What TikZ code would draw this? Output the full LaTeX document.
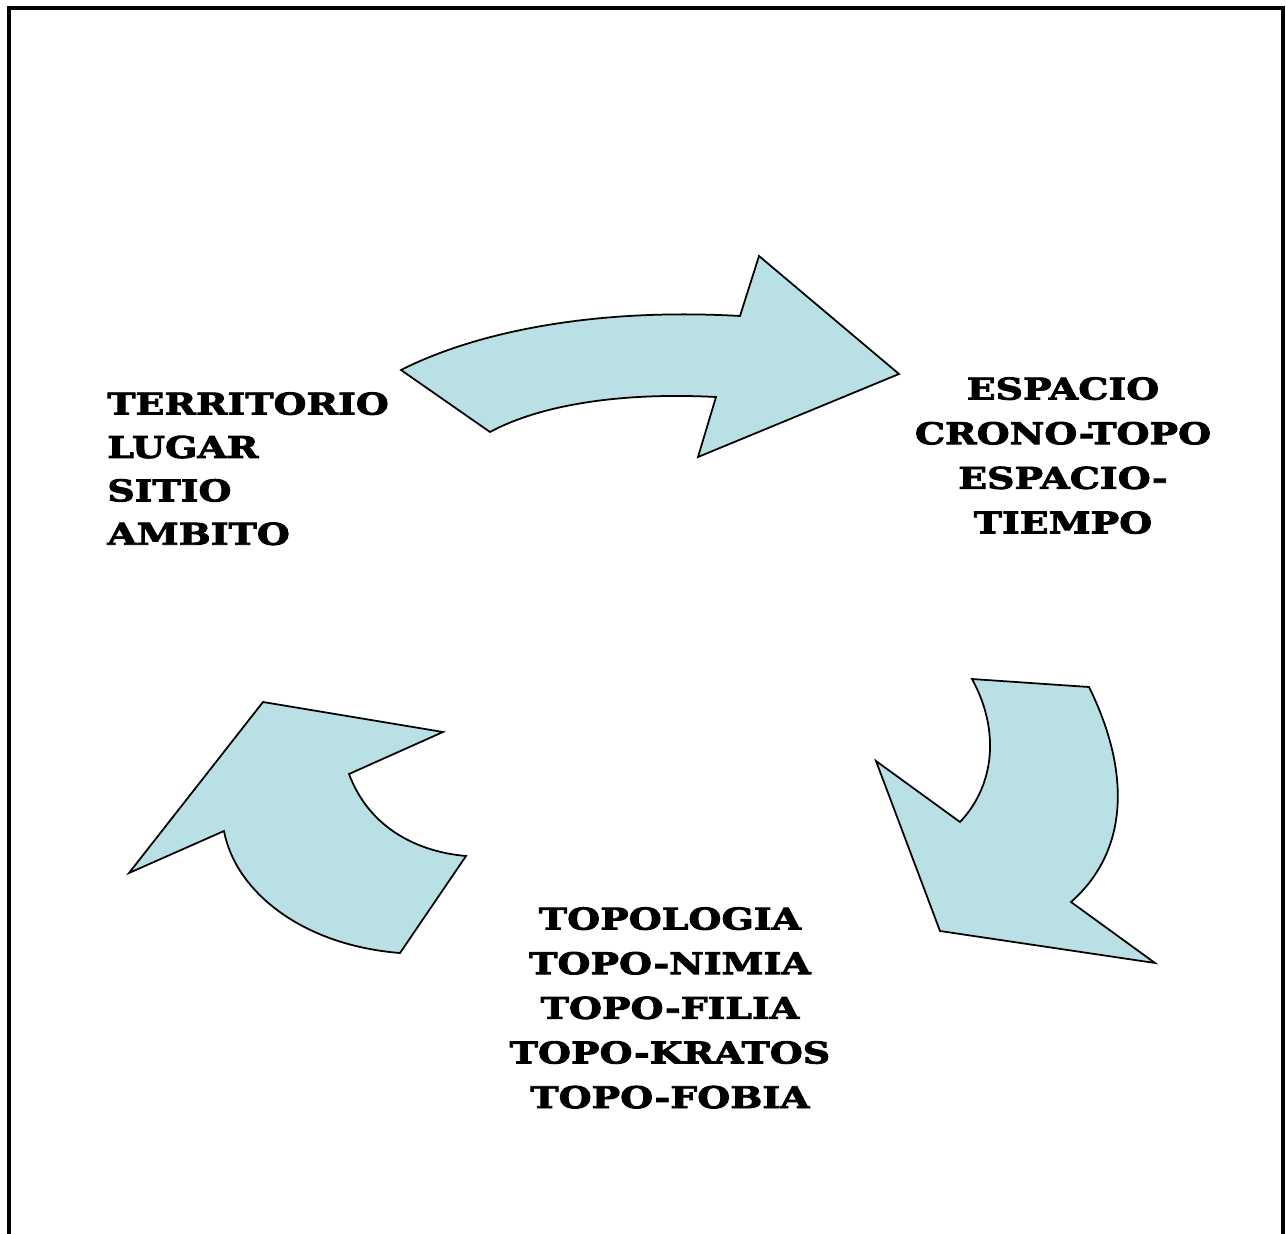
\documentclass[tikz,border=0pt]{standalone}
\usepackage{fontspec}
\newfontfamily\heavyfont{DejaVu Serif Bold}[FakeStretch=1.27,FakeBold=3]
\definecolor{arrowfill}{RGB}{185,224,228}

\tikzset{
  bentarrow/.style={draw=black, line width=1pt, fill=arrowfill, line join=miter},
  wordlist/.style={font=\heavyfont\fontsize{17}{24.7}\selectfont, inner sep=0pt},
  widelist/.style={wordlist, font=\heavyfont\fontsize{17}{25.4}\selectfont}
}

\begin{document}
\begin{tikzpicture}[x=0.02cm, y=-0.02cm]
        \useasboundingbox (0,0) rectangle (1286,1234);

        % Marco (abierto abajo)
        \draw[line width=2.2pt] (9,1234) -- (9,8) -- (1283,8) -- (1283,1234);

        % Flecha de arriba
        \draw[bentarrow] (401,370) .. controls (480,330) and (600,308) .. (740,316)
              -- (759,256) -- (899,374) -- (698,457) -- (716,397)
              .. controls (620,392) and (540,405) .. (490,432) -- cycle;

        % Flecha de la derecha
        \draw[bentarrow] (972,679) -- (1089,687)
              .. controls (1130,770) and (1130,850) .. (1071,902)
              -- (1155,963) -- (940,931) -- (876,761) -- (960,822)
              .. controls (995,785) and (1000,730) .. (972,679) -- cycle;

        % Flecha de la izquierda
        \draw[bentarrow] (263,702) -- (443,732) -- (349,774)
              .. controls (370,830) and (420,852) .. (466,856)
              -- (400,953) .. controls (300,945) and (235,890) .. (224,831)
              -- (129,873) -- cycle;

        % Textos
        \node[wordlist, align=left, anchor=north west] (territorio) at (107,392)
              {TERRITORIO\\LUGAR\\SITIO\\AMBITO};
        \node[widelist, align=center, anchor=north] (espacio) at (1063,377)
              {ESPACIO\\CRONO-TOPO\\ESPACIO-\\TIEMPO};
        \node[widelist, align=center, anchor=north] (topologia) at (670,907)
              {TOPOLOGIA\\TOPO-NIMIA\\TOPO-FILIA\\TOPO-KRATOS\\TOPO-FOBIA};
\end{tikzpicture}
\end{document}
